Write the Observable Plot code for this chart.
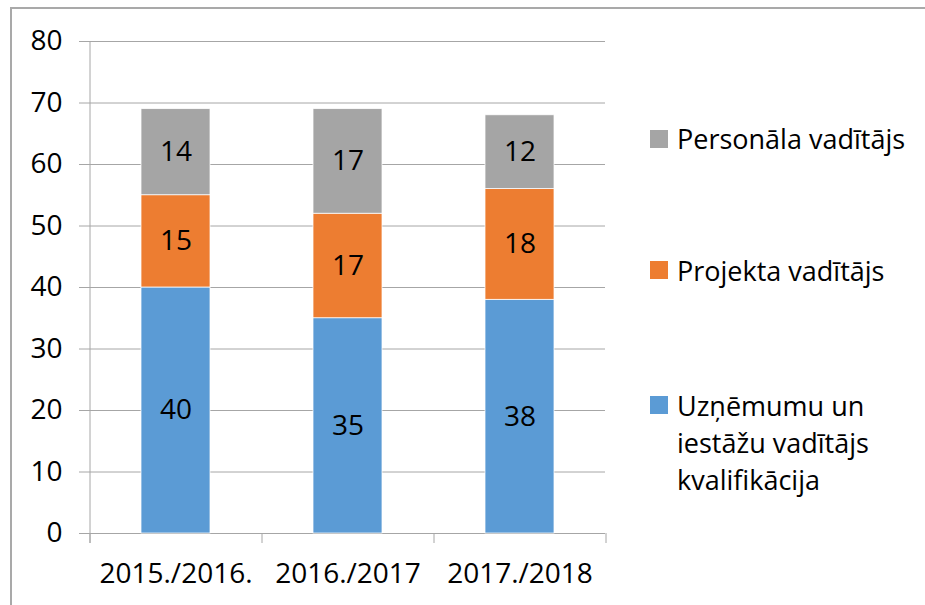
<!DOCTYPE html>
<html><head><meta charset="utf-8">
<script src="https://cdn.jsdelivr.net/npm/d3@7"></script>
<script src="https://cdn.jsdelivr.net/npm/@observablehq/plot@0.6"></script>
<style>
body{margin:0;background:#fff;}
#wrap{position:relative;width:925px;height:605px;overflow:hidden;font-family:"Open Sans",sans-serif;background:#fff;}
#frame{position:absolute;left:10px;top:7px;right:-4px;bottom:-4px;border-top:2px solid #a9a9a9;border-left:2px solid #a9a9a9;}
#chart{position:absolute;left:0;top:0;}
#legend{position:absolute;left:650px;top:0;width:275px;height:605px;}
.item{position:absolute;left:0;display:flex;align-items:flex-start;font-size:27px;line-height:37px;color:#000;}
.sw{flex:none;width:18px;height:18px;margin-top:9.5px;margin-right:9px;}
.lab{width:246px;}
</style>
</head><body>
<div id="wrap"><div id="frame"></div><div id="chart"></div><div id="legend"></div></div>
<script>
const years = ["2015./2016.", "2016./2017", "2017./2018"];
const seriesNames = ["Uzņēmumu un iestāžu vadītājs kvalifikācija", "Projekta vadītājs", "Personāla vadītājs"];
const uznemumuValues = [40, 35, 38];
const projektaValues = [15, 17, 18];
const personalaValues = [14, 17, 12];
const seriesColors = ["#5B9BD5", "#ED7D31", "#A5A5A5"];
const yTicks = [0, 10, 20, 30, 40, 50, 60, 70, 80];

const allValues = [uznemumuValues, projektaValues, personalaValues];
const data = [];
seriesNames.forEach((s, si) => years.forEach((y, yi) => data.push({year: y, series: s, value: allValues[si][yi]})));

const W = 925, H = 605, mL = 89, mR = 320, mT = 41, mB = 72;
const step = (W - mL - mR) / years.length;
const gridColor = "#a6a6a6";
const fontSize = 28;

const chart = Plot.plot({
  width: W, height: H,
  marginLeft: mL, marginRight: mR, marginTop: mT, marginBottom: mB,
  style: {fontFamily: "'Open Sans', sans-serif", fontSize: fontSize + "px", color: "#000", background: "transparent", overflow: "visible"},
  x: {domain: years, paddingInner: 0.6, paddingOuter: 0.3, axis: null},
  y: {domain: [0, 80], axis: null},
  color: {domain: seriesNames, range: seriesColors},
  marks: [
    Plot.gridY(yTicks, {stroke: gridColor, strokeOpacity: 1, strokeWidth: 1}),
    Plot.axisY(yTicks, {tickSize: 10, tickPadding: 17, stroke: gridColor, strokeOpacity: 1, fill: "#000", fontSize, label: null}),
    Plot.ruleX(years.slice(0, 1), {x: d => d, dx: -step / 2, stroke: gridColor, insetBottom: -10}),
    Plot.ruleX(years, {x: d => d, y1: 0, y2: 0, dx: -step / 2, stroke: gridColor, insetBottom: -10}),
    Plot.ruleX(years.slice(-1), {x: d => d, y1: 0, y2: 0, dx: step / 2, stroke: gridColor, insetBottom: -10}),
    Plot.axisX({tickSize: 0, tickPadding: 30, fill: "#000", fontSize, label: null}),
    Plot.barY(data, Plot.stackY({x: "year", y: "value", z: "series", fill: "series", stroke: "#fff", strokeWidth: 0.75})),
    Plot.text(data, Plot.stackY({x: "year", y: "value", z: "series", text: d => String(d.value), fill: "#000", fontSize}))
  ]
});
document.getElementById("chart").appendChild(chart);

// legend (top series first)
const legend = document.getElementById("legend");
const legendTops = [120, 251.5, 386.5];
[2, 1, 0].forEach((si, k) => {
  const item = document.createElement("div");
  item.className = "item";
  item.style.top = legendTops[k] + "px";
  const sw = document.createElement("div");
  sw.className = "sw";
  sw.style.background = seriesColors[si];
  const lab = document.createElement("div");
  lab.className = "lab";
  lab.textContent = seriesNames[si];
  item.appendChild(sw); item.appendChild(lab);
  legend.appendChild(item);
});
</script>
</body></html>
